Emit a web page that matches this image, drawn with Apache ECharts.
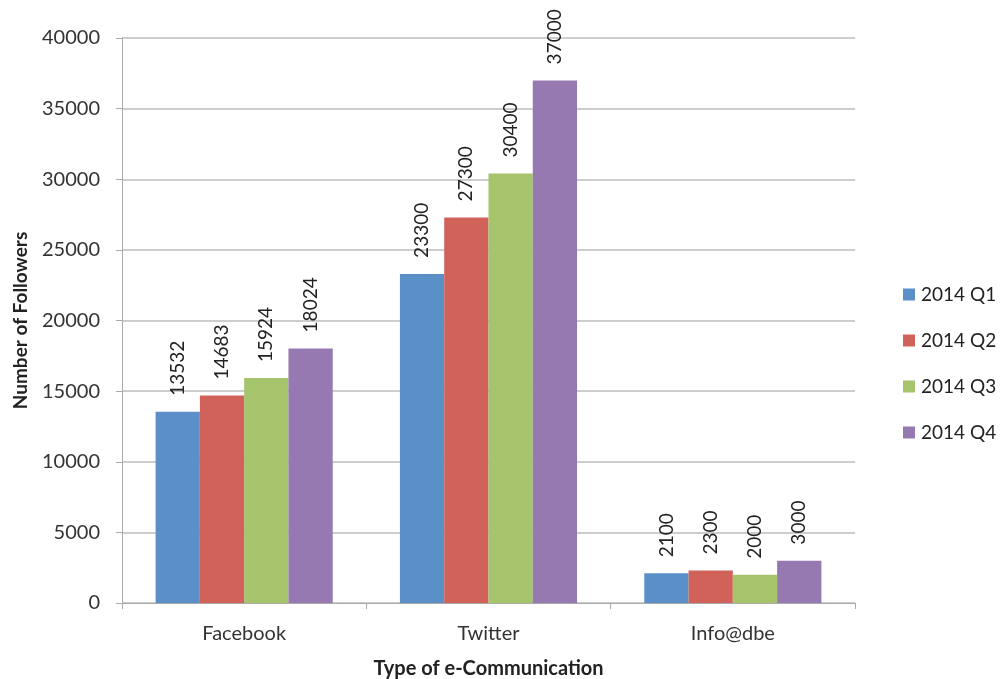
<!DOCTYPE html>
<html>
<head>
<meta charset="utf-8">
<title>Followers by e-Communication</title>
<script src="https://cdn.jsdelivr.net/npm/echarts@6/dist/echarts.min.js"></script>
<style>
  html, body { margin: 0; padding: 0; background: #fff; }
  #main { width: 1000px; height: 679px; }
</style>
</head>
<body>
<div id="main"></div>
<script>
// data
var categories = ['Facebook', 'Twitter', 'Info@dbe'];
var seriesNames = ['2014 Q1', '2014 Q2', '2014 Q3', '2014 Q4'];
var q1 = [13532, 23300, 2100];
var q2 = [14683, 27300, 2300];
var q3 = [15924, 30400, 2000];
var q4 = [18024, 37000, 3000];
var colors = ['#5b8fc7', '#d0625a', '#a6c46c', '#9679b0'];

var font = 'Lato, "Open Sans", sans-serif';
var chart = echarts.init(document.getElementById('main'));

function bar(name, data) {
    return {
        type: 'bar',
        name: name,
        data: data,
        barGap: '0%',
        barCategoryGap: '27.5%',
        label: {
            show: true,
            position: 'top',
            rotate: 90,
            align: 'left',
            verticalAlign: 'middle',
            distance: 16,
            color: '#222',
            fontSize: 19,
            fontFamily: font
        }
    };
}

var option = {
    animation: false,
    color: colors,
    grid: { left: 122, right: 145, top: 38, bottom: 76, outerBoundsMode: 'none' },
    legend: {
        orient: 'vertical',
        left: 898,
        top: 280,
        icon: 'rect',
        itemWidth: 12,
        itemHeight: 12,
        itemGap: 27,
        textStyle: { fontSize: 19, color: '#222', fontFamily: font, padding: [0, 0, 0, 1] },
        data: seriesNames
    },
    xAxis: {
        type: 'category',
        data: categories,
        name: 'Type of e-Communication',
        nameLocation: 'middle',
        nameGap: 56,
        nameTextStyle: { fontSize: 20, fontWeight: 'bold', color: '#222', fontFamily: font },
        axisLine: { lineStyle: { color: '#aaa' } },
        axisTick: { show: true, length: 6, lineStyle: { color: '#aaa' } },
        axisLabel: { fontSize: 20, color: '#333', margin: 21, fontFamily: font }
    },
    yAxis: {
        type: 'value',
        min: 0,
        max: 40000,
        interval: 5000,
        name: 'Number of Followers',
        nameLocation: 'middle',
        nameGap: 92,
        nameTextStyle: { fontSize: 19, fontWeight: 'bold', color: '#222', fontFamily: font },
        axisLine: { show: true, lineStyle: { color: '#aaa' } },
        axisTick: { show: true, length: 6, lineStyle: { color: '#aaa' } },
        axisLabel: {
            fontSize: 20, color: '#333', margin: 22, fontFamily: font,
            formatter: function (v) { return String(v); }
        },
        splitLine: { lineStyle: { color: '#bcbcbc', width: 1.5 } }
    },
    series: [
        bar(seriesNames[0], q1),
        bar(seriesNames[1], q2),
        bar(seriesNames[2], q3),
        bar(seriesNames[3], q4)
    ]
};

chart.setOption(option);
</script>
</body>
</html>
